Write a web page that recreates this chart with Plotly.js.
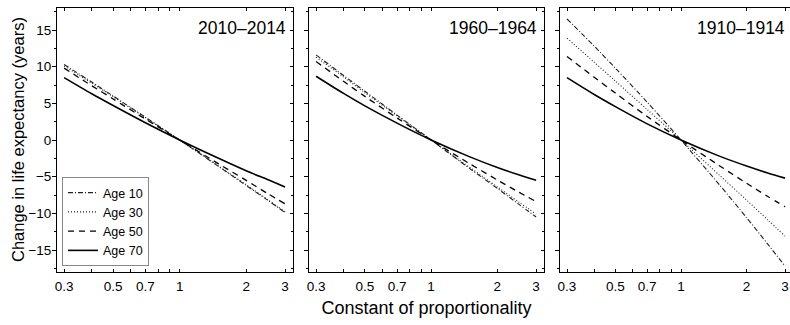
<!DOCTYPE html>
<html>
<head>
<meta charset="utf-8">
<script src="https://cdn.plot.ly/plotly-3.0.1.min.js"></script>
<style>html,body{margin:0;padding:0;background:#fff;overflow:hidden}#chart{width:790px;height:325px}</style>
</head>
<body>
<div id="chart"></div>
<script>
// ---- data ----
const xVals = [0.3, 0.4, 0.5, 0.7, 1, 1.5, 2, 2.5, 3];
const ageLabels = ['Age 10', 'Age 30', 'Age 50', 'Age 70'];
const periods = ['2010\u20132014', '1960\u20131964', '1910\u20131914'];
const xTickVals = [0.3, 0.4, 0.5, 0.6, 0.7, 0.8, 0.9, 1, 2, 3];
const xTickText = ['0.3', '', '0.5', '', '0.7', '', '', '1', '2', '3'];
const yTickVals = [-15, -10, -5, 0, 5, 10, 15];

// 2010–2014
const p2010_age10 = [10.3, 7.9, 6.0, 3.1, 0, -3.6, -6.2, -8.2, -9.9];
const p2010_age30 = [10.1, 7.75, 5.9, 3.05, 0, -3.55, -6.1, -8.1, -9.8];
const p2010_age50 = [9.8, 7.4, 5.6, 2.85, 0, -3.25, -5.5, -7.3, -8.7];
const p2010_age70 = [8.5, 6.3, 4.7, 2.35, 0, -2.5, -4.2, -5.4, -6.4];
// 1960–1964
const p1960_age10 = [11.6, 8.8, 6.65, 3.4, 0, -3.9, -6.6, -8.75, -10.5];
const p1960_age30 = [11.3, 8.6, 6.45, 3.3, 0, -3.75, -6.4, -8.45, -10.1];
const p1960_age50 = [10.7, 8.0, 5.95, 3.0, 0, -3.25, -5.45, -7.1, -8.4];
const p1960_age70 = [8.7, 6.35, 4.65, 2.3, 0, -2.3, -3.75, -4.75, -5.5];
// 1910–1914
const p1910_age10 = [16.5, 12.8, 9.8, 5.15, 0, -6.1, -10.6, -14.2, -17.2];
const p1910_age30 = [13.9, 10.6, 8.05, 4.15, 0, -4.8, -8.2, -10.9, -13.1];
const p1910_age50 = [11.4, 8.55, 6.4, 3.2, 0, -3.5, -5.9, -7.7, -9.1];
const p1910_age70 = [8.5, 6.2, 4.55, 2.2, 0, -2.2, -3.55, -4.5, -5.2];

const panelSeries = [
  [p2010_age10, p2010_age30, p2010_age50, p2010_age70],
  [p1960_age10, p1960_age30, p1960_age50, p1960_age70],
  [p1910_age10, p1910_age30, p1910_age50, p1910_age70]
];

// ---- styles ----
const FONT = 'Liberation Sans, Arial, Helvetica, sans-serif';
const lineStyles = [
  {color: '#222', width: 1.1, dash: '5px,2px,1px,2px'},
  {color: '#222', width: 1.1, dash: '1px,2px'},
  {color: '#000', width: 1.3, dash: '6px,5px'},
  {color: '#000', width: 1.6, dash: 'solid'}
];
const axSuffix = ['', '2', '3'];

const traces = [];
panelSeries.forEach((series, p) => {
  series.forEach((ys, i) => {
    traces.push({
      type: 'scatter', mode: 'lines',
      x: xVals, y: ys,
      name: ageLabels[i],
      xaxis: 'x' + axSuffix[p], yaxis: 'y' + axSuffix[p],
      line: Object.assign({shape: 'spline', smoothing: 0.8}, lineStyles[i]),
      showlegend: p === 0,
      hoverinfo: 'skip'
    });
  });
});
// helper traces so the right-hand tick axes of panels 1 and 2 are drawn
traces.push({type: 'scatter', mode: 'markers', x: [1], y: [0], xaxis: 'x', yaxis: 'y4',
  marker: {opacity: 0}, showlegend: false, hoverinfo: 'skip'});
traces.push({type: 'scatter', mode: 'markers', x: [1], y: [0], xaxis: 'x2', yaxis: 'y5',
  marker: {opacity: 0}, showlegend: false, hoverinfo: 'skip'});

const L = 57, W = 790, PW = W - L;
const domains = [
  [0, 236 / PW],
  [252 / PW, 487 / PW],
  [503 / PW, 1]
];
const xRanges = [
  [-0.555, 0.513],
  [-0.555, 0.513],
  [-0.555, 0.50]
];
const yRange = [-18, 18];

function xAxis(p) {
  return {
    type: 'log', domain: domains[p], range: xRanges[p], anchor: 'y' + axSuffix[p],
    tickmode: 'array', tickvals: xTickVals, ticktext: xTickText,
    ticks: 'inside', ticklen: 3, tickwidth: 1, tickcolor: '#000',
    showline: true, linecolor: '#000', linewidth: 1, mirror: 'ticks',
    showgrid: false, zeroline: false, fixedrange: true,
    tickfont: {family: FONT, size: 13.5, color: '#000'},
    ticklabelstandoff: 2, ticklabeloverflow: 'allow'
  };
}
function yAxis(p) {
  return {
    domain: [0, 1], range: yRange, anchor: 'x' + axSuffix[p],
    tickmode: 'array', tickvals: yTickVals,
    ticks: 'outside', ticklen: 4, tickwidth: 1, tickcolor: '#000',
    minor: {dtick: 2.5, tick0: 0, ticks: 'outside', ticklen: 2, tickwidth: 1, tickcolor: '#000', showgrid: false},
    showline: true, linecolor: '#000', linewidth: 1, mirror: false,
    showgrid: false, zeroline: false, fixedrange: true,
    showticklabels: p === 0,
    tickfont: {family: FONT, size: 13.5, color: '#000'},
    ticklabelstandoff: -2
  };
}
function yRight(p) {
  return {
    overlaying: 'y' + axSuffix[p], anchor: 'x' + axSuffix[p], side: 'right', range: yRange,
    tickmode: 'array', tickvals: yTickVals,
    ticks: 'inside', ticklen: 3, tickwidth: 1, tickcolor: '#000',
    minor: {dtick: 2.5, tick0: 0, ticks: 'inside', ticklen: 2, tickwidth: 1, tickcolor: '#000', showgrid: false},
    showline: true, linecolor: '#000', linewidth: 1,
    showgrid: false, zeroline: false, showticklabels: false, fixedrange: true
  };
}

const annotations = periods.map((t, p) => ({
  text: t, xref: 'x' + axSuffix[p] + ' domain', yref: 'y' + axSuffix[p] + ' domain',
  x: 1, y: 0.925, xanchor: 'right', yanchor: 'middle',
  xshift: p === 2 ? -3 : -5, showarrow: false,
  font: {family: FONT, size: 17.5, color: '#000'}
}));
// y-axis title
annotations.push({
  text: 'Change in life expectancy (years)', xref: 'paper', yref: 'paper',
  x: (18 - L) / PW, y: 0.5, xanchor: 'center', yanchor: 'middle', textangle: -90,
  showarrow: false, font: {family: FONT, size: 16.5, color: '#000'}
});

const layout = {
  width: W, height: 325,
  margin: {l: L, r: 0, t: 8, b: 53},
  paper_bgcolor: '#fff', plot_bgcolor: '#fff',
  font: {family: FONT, color: '#000'},
  showlegend: true,
  legend: {
    x: 5 / PW, y: 6 / 264, xanchor: 'left', yanchor: 'bottom',
    bgcolor: '#fff', bordercolor: '#888', borderwidth: 1,
    font: {family: FONT, size: 12.5, color: '#000'},
    itemwidth: 30, tracegroupgap: 0
  },
  xaxis: xAxis(0), xaxis2: xAxis(1), xaxis3: xAxis(2),
  yaxis: yAxis(0), yaxis2: yAxis(1), yaxis3: yAxis(2),
  yaxis4: yRight(0), yaxis5: yRight(1),
  annotations: annotations
};
layout.xaxis2.title = {text: 'Constant of proportionality', standoff: 8,
  font: {family: FONT, size: 18, color: '#000'}};

Plotly.newPlot('chart', traces, layout, {staticPlot: true, displayModeBar: false});
</script>
</body>
</html>
